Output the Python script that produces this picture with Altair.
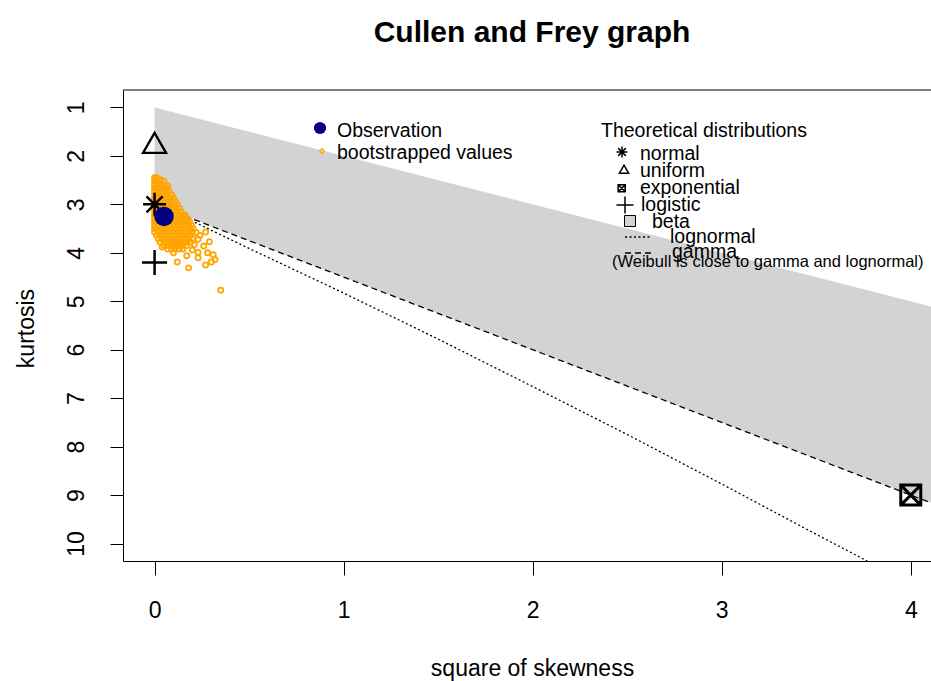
import altair as alt
import pandas as pd

FONT = "Liberation Sans"

# ---------------------------------------------------------------- data
# observed sample: (square of skewness, kurtosis)
obs_s2 = [0.05]
obs_k = [3.25]

# bootstrapped (square of skewness, kurtosis) pairs
boot_s2 = [
    0.0, 0.01,
    0.0, 0.01, 0.03,
    0.0, 0.02, 0.04,
    0.0, 0.01, 0.03, 0.05, 0.06,
    0.0, 0.02, 0.04, 0.06, 0.075,
    0.0, 0.01, 0.03, 0.05, 0.07, 0.09,
    0.0, 0.02, 0.04, 0.06, 0.08, 0.10,
    0.0, 0.01, 0.03, 0.05, 0.07, 0.09, 0.11,
    0.0, 0.02, 0.04, 0.06, 0.08, 0.10, 0.12,
    0.0, 0.01, 0.03, 0.05, 0.07, 0.09, 0.11, 0.13,
    0.0, 0.02, 0.04, 0.06, 0.08, 0.10, 0.12, 0.14,
    0.0, 0.01, 0.03, 0.05, 0.07, 0.09, 0.11, 0.13, 0.15, 0.16,
    0.0, 0.02, 0.04, 0.06, 0.08, 0.10, 0.12, 0.14, 0.16, 0.17,
    0.0, 0.01, 0.03, 0.05, 0.07, 0.09, 0.11, 0.13, 0.15, 0.17, 0.185,
    0.0, 0.02, 0.04, 0.06, 0.08, 0.10, 0.12, 0.14, 0.16, 0.18, 0.195,
    0.0, 0.01, 0.03, 0.05, 0.07, 0.09, 0.11, 0.13, 0.15, 0.17, 0.19, 0.205,
    0.0, 0.02, 0.04, 0.06, 0.08, 0.10, 0.12, 0.14, 0.16, 0.18, 0.20,
    0.01, 0.03, 0.05, 0.07, 0.09, 0.11, 0.13, 0.15, 0.17, 0.19,
    0.02, 0.04, 0.06, 0.08, 0.10, 0.12, 0.14, 0.16, 0.18, 0.20,
    0.03, 0.05, 0.07, 0.09, 0.11, 0.13, 0.15, 0.17, 0.19,
    0.05, 0.07, 0.09, 0.11, 0.13, 0.15, 0.17,
    0.07, 0.09, 0.11, 0.13, 0.15,
    # scattered tail
    0.22, 0.24, 0.27, 0.23, 0.29, 0.21, 0.26, 0.20, 0.23, 0.31, 0.28,
    0.17, 0.23, 0.30, 0.32, 0.27, 0.12, 0.18, 0.35, 0.10, 0.04,
    0.03, 0.05, 0.07,
]
boot_k = (
    [2.45] * 2 + [2.52] * 3 + [2.59] * 3 + [2.66] * 5 + [2.73] * 5
    + [2.80] * 6 + [2.87] * 6 + [2.94] * 7 + [3.01] * 7 + [3.08] * 8
    + [3.15] * 8 + [3.22] * 10 + [3.29] * 10 + [3.36] * 11 + [3.43] * 11
    + [3.50] * 12 + [3.57] * 11 + [3.64] * 10 + [3.71] * 10 + [3.78] * 9
    + [3.85] * 7 + [3.92] * 5
    + [3.58, 3.64, 3.57, 3.72, 3.77, 3.83, 3.86, 3.94, 3.99, 4.04, 4.00,
       4.06, 4.10, 4.19, 4.14, 4.25, 4.19, 4.31, 4.77, 4.00, 3.88,
       2.49, 2.52, 2.62]
)

# theoretical single points
normal_s2, normal_k = [0.0], [3.0]
uniform_s2, uniform_k = [0.0], [1.8]
expo_s2, expo_k = [4.0], [9.0]
logis_s2, logis_k = [0.0], [4.2]

# beta region: lower/upper kurtosis bounds along the skewness axis
beta_s2 = [0.0, 4.107]
beta_k_top = [1.0, 5.107]
beta_k_bottom = [3.0, 9.16]

# gamma and lognormal curves
gamma_s2 = [0.16, 1.0, 2.0, 3.0, 4.0, 4.107]
gamma_k = [3.24, 4.5, 6.0, 7.5, 9.0, 9.16]
lnorm_s2 = [0.17, 0.5, 1.0, 1.5, 2.0, 2.5, 3.0, 3.5, 3.77]
lnorm_k = [3.29, 3.91, 4.83, 5.78, 6.76, 7.75, 8.77, 9.81, 10.36]

# ---------------------------------------------------------------- scales / axes
X_SCALE = alt.Scale(domain=[-0.167, 4.107], nice=False, zero=False)
Y_SCALE = alt.Scale(domain=[0.64, 10.36], nice=False, zero=False, reverse=True)

X_AXIS = alt.Axis(
    values=[0, 1, 2, 3, 4], format="d", title="square of skewness", grid=False,
    tickSize=14, labelFontSize=23, labelPadding=42, labelBaseline="alphabetic",
    labelFlush=False, labelOverlap=False, titleFontSize=23, titleFontWeight="normal",
    titleX=409, titleY=114, titleAlign="center", titleBaseline="alphabetic",
)
Y_AXIS = alt.Axis(
    values=list(range(1, 11)), format="d", title="kurtosis", grid=False,
    tickSize=13, labelAngle=270, labelAlign="center", labelBaseline="alphabetic",
    labelPadding=27, labelFontSize=23, labelFlush=False, labelOverlap=False,
    titleFontSize=23, titleFontWeight="normal", titleAngle=270,
    titleX=-90, titleY=238, titleAlign="center", titleBaseline="alphabetic",
)


def xq():
    return alt.X("s2:Q", scale=X_SCALE, axis=X_AXIS)


def yq():
    return alt.Y("kurt:Q", scale=Y_SCALE, axis=Y_AXIS)


def frame(s2, k):
    return pd.DataFrame({"s2": s2, "kurt": k})


ASTERISK = "M-1,0L1,0M0,-1L0,1M-0.7,-0.7L0.7,0.7M-0.7,0.7L0.7,-0.7"
TRIANGLE = "M0,-1L0.866,0.5L-0.866,0.5Z"
BOX_X = "M-1,-1L1,-1L1,1L-1,1ZM-1,-1L1,1M-1,1L1,-1"
PLUS = "M-1,0L1,0M0,-1L0,1"

# ---------------------------------------------------------------- plot layers
beta_df = pd.DataFrame({"s2": beta_s2, "kurt": beta_k_top, "kurt2": beta_k_bottom})
beta = alt.Chart(beta_df).mark_area(color="#D3D3D3", opacity=1).encode(
    x=xq(), y=yq(), y2="kurt2:Q"
)

gamma = alt.Chart(frame(gamma_s2, gamma_k)).mark_line(
    color="black", strokeWidth=1.3, strokeDash=[6, 4], clip=True
).encode(x=xq(), y=yq())

lnorm = alt.Chart(frame(lnorm_s2, lnorm_k)).mark_line(
    color="black", strokeWidth=1.3, strokeDash=[2, 2.5], clip=True
).encode(x=xq(), y=yq())

boot = alt.Chart(frame(boot_s2, boot_k)).mark_point(
    shape="circle", filled=False, color="#FFA500", size=26, strokeWidth=1.8, opacity=1
).encode(x=xq(), y=yq())


def symbol(s2, k, path, size, sw):
    return alt.Chart(frame(s2, k)).mark_point(
        shape=path, filled=False, color="black", size=size, strokeWidth=sw, opacity=1
    ).encode(x=xq(), y=yq())


normal = symbol(normal_s2, normal_k, ASTERISK, 529, 2.5)
uniform = symbol(uniform_s2, uniform_k, TRIANGLE, 708, 2.3)
expo = symbol(expo_s2, expo_k, BOX_X, 400, 3)
logis = symbol(logis_s2, logis_k, PLUS, 625, 2.5)

obs = alt.Chart(frame(obs_s2, obs_k)).mark_circle(
    color="#000080", size=380, opacity=1
).encode(x=xq(), y=yq())

# top edge of the plotting frame
one = pd.DataFrame({"i": [0]})
top_edge = alt.Chart(one).mark_rule(color="black", strokeWidth=1).encode(
    x=alt.value(0), x2=alt.value(808), y=alt.value(0)
)

# ---------------------------------------------------------------- legends


def label(text, x, y, size=19.5):
    return alt.Chart(one).mark_text(
        text=text, align="left", baseline="alphabetic", fontSize=size,
        font=FONT, color="black"
    ).encode(x=alt.value(x), y=alt.value(y))


def key(x, y, shape, size, sw=1.5, filled=False, color="black", stroke="black"):
    if filled:
        m = alt.Chart(one).mark_point(
            shape=shape, filled=True, fill=color, stroke=stroke, size=size,
            strokeWidth=sw, opacity=1
        )
    else:
        m = alt.Chart(one).mark_point(
            shape=shape, filled=False, color=color, size=size, strokeWidth=sw, opacity=1
        )
    return m.encode(x=alt.value(x), y=alt.value(y))


def key_line(x1, x2, y, dash):
    return alt.Chart(one).mark_rule(color="black", strokeWidth=1.3, strokeDash=dash).encode(
        x=alt.value(x1), x2=alt.value(x2), y=alt.value(y)
    )


legend_layers = [
    alt.Chart(one).mark_circle(color="#000080", size=150, opacity=1).encode(
        x=alt.value(197), y=alt.value(38)
    ),
    key(199, 61, "diamond", 24, sw=1.3, color="#FFA500"),
    label("Observation", 214, 46.7),
    label("bootstrapped values", 214, 68.5),
    label("Theoretical distributions", 478, 46.5),
    key(499, 62, ASTERISK, 121, sw=1.5),
    label("normal", 517, 70),
    key(501, 80.5, TRIANGLE, 113, sw=1.5),
    label("uniform", 517, 87),
    key(498.7, 98.3, BOX_X, 49, sw=1.6),
    label("exponential", 517, 103.5),
    key(502, 115, PLUS, 289, sw=1.5),
    label("logistic", 518, 121),
    key(507, 131, "square", 121, sw=1, filled=True, color="#D3D3D3"),
    label("beta", 529, 138.3),
    key_line(502, 527, 147, [2, 2.5]),
    label("lognormal", 547, 152.7),
    key_line(502, 529, 163, [6, 4]),
    label("gamma", 549, 168.3),
    label("(Weibull is close to gamma and lognormal)", 489, 176.7, size=16.5),
]

chart = alt.layer(
    beta, gamma, lnorm, boot, normal, uniform, expo, logis, obs, top_edge,
    *legend_layers
).properties(
    width=808,
    height=471,
    padding={"left": 123, "top": 90, "right": 0, "bottom": 120},
    autosize=alt.AutoSizeParams(type="none"),
    title=alt.TitleParams(
        "Cullen and Frey graph", font=FONT, fontSize=30, fontWeight="bold",
        color="black", anchor="middle", dx=5, baseline="alphabetic", offset=18,
    ),
).configure_view(
    strokeWidth=0
).configure_axis(
    domainColor="black", tickColor="black", labelColor="black", titleColor="black",
    labelFont=FONT, titleFont=FONT, domainWidth=1, tickWidth=1,
)

chart.save("out.html", embed_options={"renderer": "svg", "actions": False})
